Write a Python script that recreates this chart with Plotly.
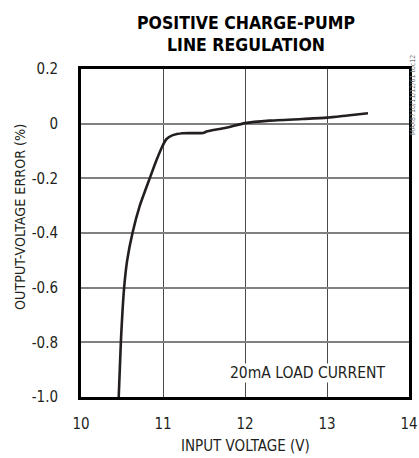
import plotly.graph_objects as go

# Data
input_voltage = [10.46, 10.486, 10.526, 10.563, 10.628, 10.717, 10.838, 10.92, 10.984,
                 11.04, 11.12, 11.24, 11.49, 11.53, 11.77, 12.0, 12.3, 12.7, 13.0, 13.25, 13.5]
output_error = [-1.0, -0.8, -0.6, -0.5, -0.4, -0.3, -0.2, -0.134, -0.088,
                -0.057, -0.042, -0.035, -0.034, -0.029, -0.015, 0.002, 0.011, 0.017, 0.022, 0.03, 0.038]

x_ticks = [10, 11, 12, 13, 14]
y_ticks = [0.2, 0, -0.2, -0.4, -0.6, -0.8, -1.0]
y_tick_text = ["0.2", "0", "-0.2", "-0.4", "-0.6", "-0.8", "-1.0"]

FONT = "DejaVu Sans Condensed, Liberation Sans Narrow, sans-serif"

W, H = 419, 458
L, T, PW, PH = 81, 69, 328, 328

def px(sx):
    return (sx - L) / PW

def py(sy):
    return (T + PH - sy) / PH

fig = go.Figure()
fig.add_trace(go.Scatter(
    x=input_voltage, y=output_error, mode="lines",
    line=dict(color="#231f20", width=2.6, shape="spline", smoothing=0.5),
    showlegend=False, hoverinfo="skip"))

fig.update_layout(
    width=W, height=H,
    margin=dict(l=L, r=W - L - PW, t=T, b=H - T - PH, autoexpand=False),
    paper_bgcolor="white", plot_bgcolor="white",
    font=dict(family=FONT, size=15, color="#231f20"),
    title=dict(text="<b>POSITIVE CHARGE-PUMP<br>LINE REGULATION</b>",
               x=246 / W, xanchor="center", y=1 - 28.5 / H, yanchor="middle",
               font=dict(family=FONT, size=17.5, color="#000")),
    xaxis=dict(range=[10, 14], tickvals=x_ticks, ticks="", ticklabelstandoff=11,
               showgrid=True, gridcolor="#4a4a4a", gridwidth=1,
               showline=True, linecolor="#000", linewidth=3, mirror=True,
               zeroline=False, fixedrange=True, automargin=False),
    yaxis=dict(range=[-1.0, 0.2], tickvals=y_ticks, ticktext=y_tick_text, ticks="",
               ticklabelstandoff=17,
               showgrid=True, gridcolor="#808080", gridwidth=1.5,
               showline=True, linecolor="#000", linewidth=3, mirror=True,
               zeroline=False, fixedrange=True, automargin=False),
)

fig.add_annotation(x=px(245), y=py(446), xref="paper", yref="paper",
                   text="INPUT VOLTAGE (V)", showarrow=False,
                   xanchor="center", yanchor="middle", font=dict(size=15))
fig.add_annotation(x=px(20), y=py(217), xref="paper", yref="paper",
                   text="OUTPUT-VOLTAGE ERROR (%)", showarrow=False, textangle=-90,
                   xanchor="center", yanchor="middle", font=dict(size=14.2))
fig.add_annotation(x=px(386), y=py(373), xref="paper", yref="paper", text="20mA LOAD CURRENT",
                   showarrow=False, xanchor="right", yanchor="middle",
                   bgcolor="white", borderpad=0, font=dict(size=15.5, color="#231f20"))
fig.add_annotation(x=px(413), y=py(95), xref="paper", yref="paper",
                   text="MAX8710/11/12/61 toc12", showarrow=False, textangle=-90,
                   xanchor="center", yanchor="middle",
                   font=dict(size=7, color="#777"))

fig.write_html("out.html", config={"displayModeBar": False},
               post_script="document.body.style.margin='0';document.body.style.overflow='hidden';")
